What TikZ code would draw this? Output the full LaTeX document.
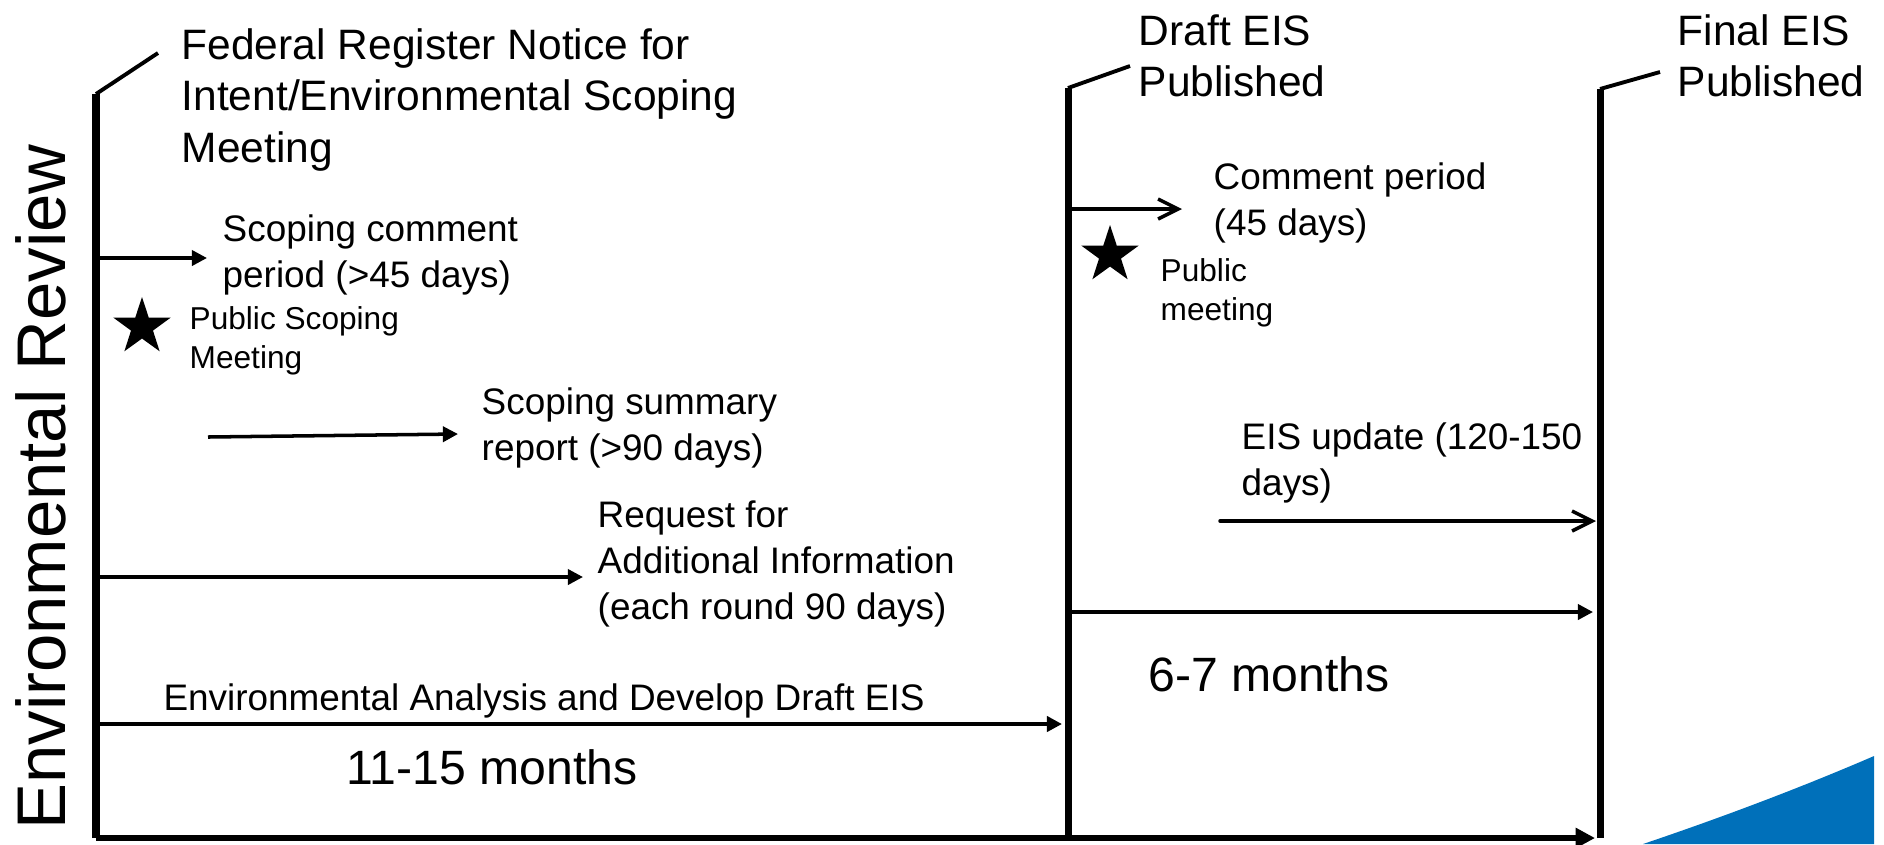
\documentclass[tikz,border=0pt]{standalone}
\usepackage{fontspec}
\setmainfont{Liberation Sans}
\usetikzlibrary{arrows.meta,shapes.geometric}
\definecolor{swoosh}{RGB}{0,112,186}

\begin{document}
\begin{tikzpicture}[x=0.1mm,y=-0.1mm,
        milestone/.style={line width=2pt},
        flag/.style={line width=1.1pt},
        flow/.style={line width=1pt,-{Triangle[length=4.3pt,width=4.3pt]}},
        openflow/.style={line width=1pt,line cap=round,-{Straight Barb[length=5.7pt,width=5.7pt]}},
        pubstar/.style={star,star points=5,star point ratio=2.6,fill=black,minimum size=6mm,inner sep=0pt},
        txtbig/.style={anchor=north west,inner sep=0pt,align=left,font=\fontsize{12.1}{14.6}\selectfont},
        txtmid/.style={anchor=north west,inner sep=0pt,align=left,font=\fontsize{10.5}{13.1}\selectfont},
        txtsmall/.style={anchor=north west,inner sep=0pt,align=left,font=\fontsize{9}{11.1}\selectfont},
        txtmonths/.style={inner sep=0pt,font=\fontsize{13.7}{16}\selectfont}]
        \useasboundingbox(0,0)rectangle(1884,844);
        % milestones
        \coordinate(nbot)at(96,838);\coordinate(ntop)at(96,94);\coordinate(nflag)at(158,53);
        \coordinate(dbot)at(1068,838);\coordinate(dtop)at(1068,88);\coordinate(dflag)at(1130,66);
        \coordinate(fbot)at(1600,838);\coordinate(ftop)at(1600,89);\coordinate(fflag)at(1660,72);
        \draw[milestone](nbot)--(ntop);\draw[flag](ntop)--(nflag);
        \draw[milestone](dbot)--(dtop);\draw[flag](dtop)--(dflag);
        \draw[milestone](fbot)--(ftop);\draw[flag](ftop)--(fflag);
        \node[rotate=90,inner sep=0pt,font=\fontsize{19.6}{23}\selectfont](review)at(41,487){Environmental Review};
        \node[txtbig](notice)at(181,28){Federal Register Notice for\\Intent/Environmental Scoping\\Meeting};
        \node[txtbig](draft)at(1138,14){Draft EIS\\Published};
        \node[txtbig](final)at(1677,14){Final EIS\\Published};
        % scoping
        \coordinate(c1s)at(96,258);\coordinate(c1e)at(207,258);
        \draw[flow](c1s)--(c1e);
        \node[txtmid](scopecom)at(222,214){Scoping comment\\period (>45 days)};
        \node[pubstar](star1)at(142,327){};
        \node[txtsmall](pubscope)at(189,306){Public Scoping\\Meeting};
        \coordinate(c2s)at(208,437);\coordinate(c2e)at(458,434);
        \draw[flow](c2s)--(c2e);
        \node[txtmid](summary)at(481,387){Scoping summary\\report (>90 days)};
        \coordinate(c3s)at(96,577);\coordinate(c3e)at(583,577);
        \draw[flow](c3s)--(c3e);
        \node[txtmid](request)at(597,500){Request for\\Additional Information\\(each round 90 days)};
        \coordinate(c4s)at(96,724);\coordinate(c4e)at(1062,724);
        \draw[flow,line width=1.15pt](c4s)--(c4e);
        \node[txtmid,anchor=center](analysis)at(544,701){Environmental Analysis and Develop Draft EIS};
        \node[txtmonths](first)at(492,767){11-15 months};
        % draft to final
        \coordinate(c5e)at(1182,209);
        \draw[openflow](1068,209)--(c5e);
        \node[txtmid](comment)at(1213,162){Comment period\\(45 days)};
        \node[pubstar](star2)at(1110,255){};
        \node[txtsmall](pubmeet)at(1160,258){Public\\meeting};
        \node[txtmid](update)at(1241,422){EIS update (120-150\\days)};
        \coordinate(c6s)at(1220,521);\coordinate(c6e)at(1596,521);
        \draw[openflow](c6s)--(c6e);
        \coordinate(c7s)at(1068,612);\coordinate(c7e)at(1593,612);
        \draw[flow](c7s)--(c7e);
        \node[txtmonths](second)at(1269,674){6-7 months};
        \coordinate(c8e)at(1595,838);
        \draw[line width=1.7pt,-{Triangle[length=5.5pt,width=5.5pt]}](nbot)--(c8e);
        \fill[swoosh](1643,844)..controls(1720,818)and(1800,788)..(1874,756)--(1874,844)--cycle;
    \end{tikzpicture}
\end{document}
